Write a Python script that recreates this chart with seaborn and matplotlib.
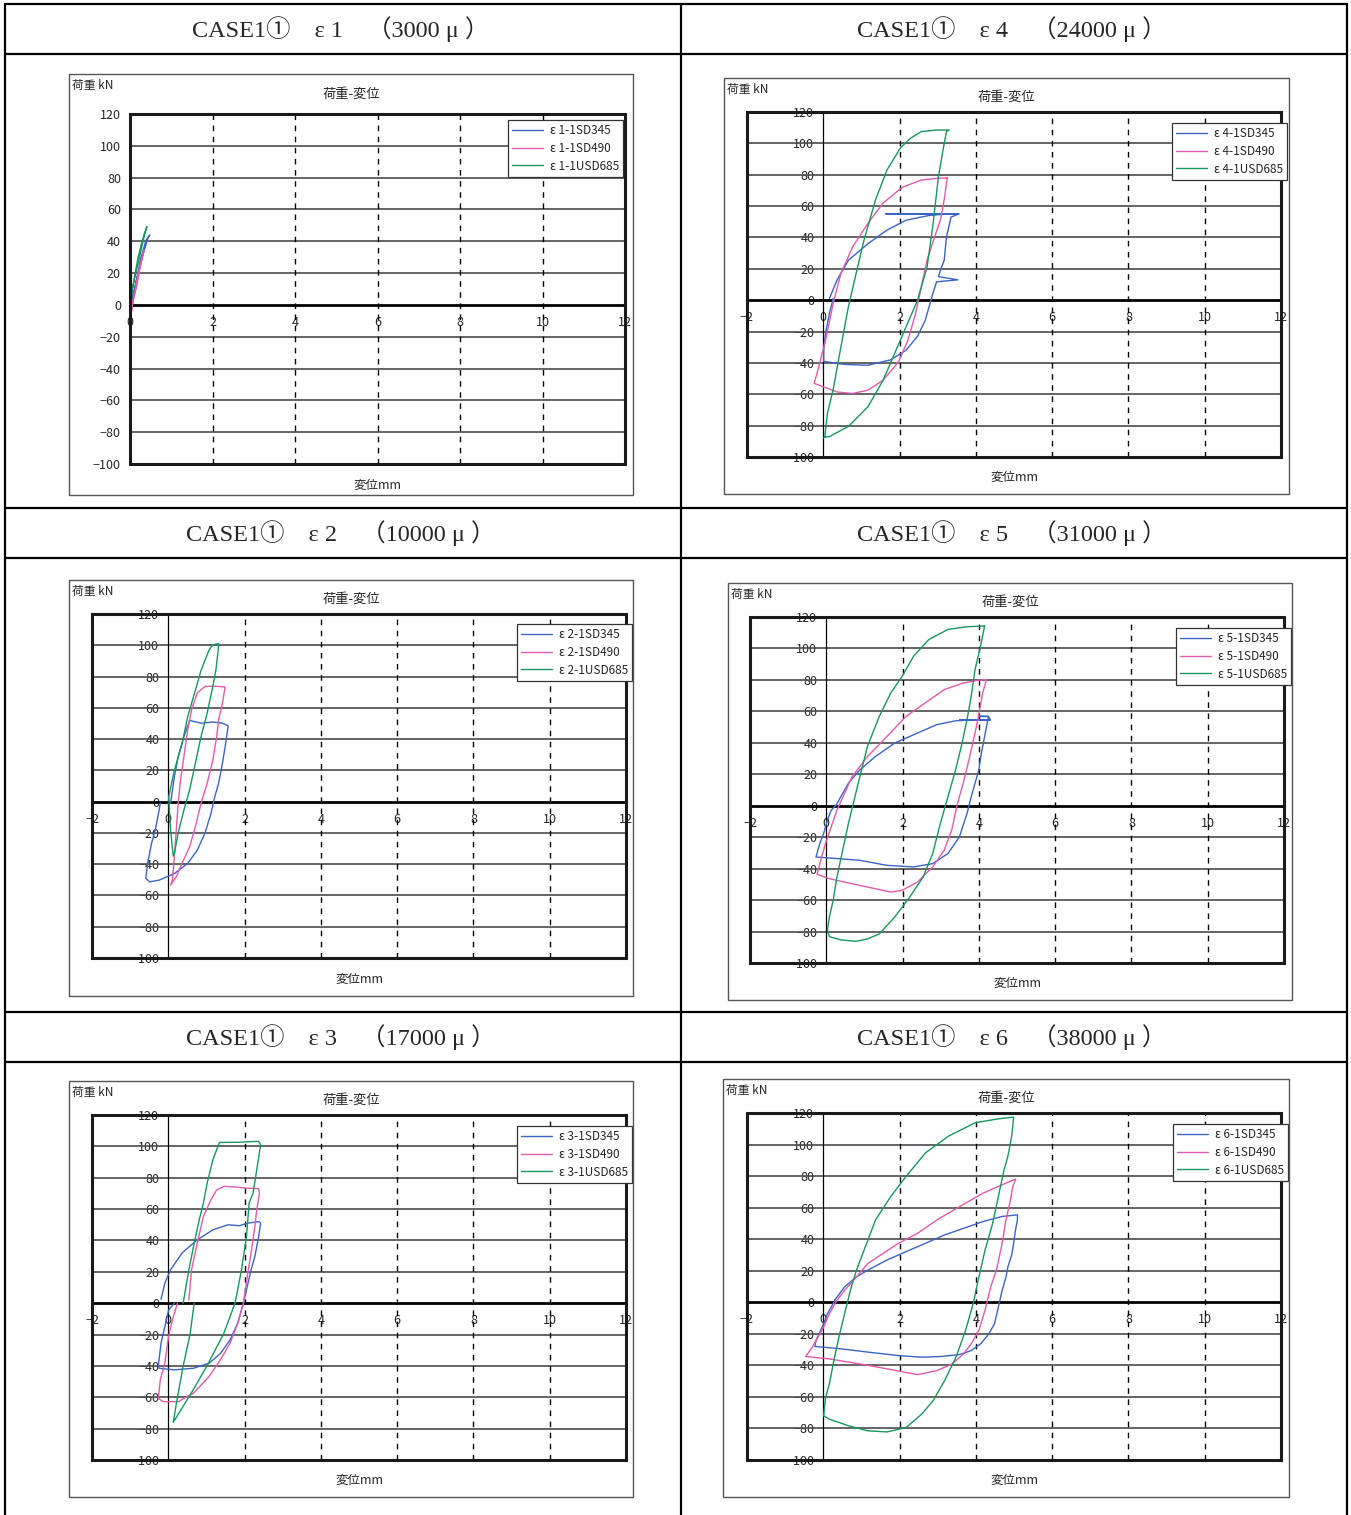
import matplotlib
matplotlib.use("Agg")
import matplotlib.pyplot as plt
import seaborn as sns
from matplotlib.lines import Line2D
from matplotlib.patches import Rectangle

# ---- data (displacement mm, load kN) ----
# eps1 (3000 micro)
e1_sd345_x = [0.02, 0.11, 0.25, 0.39, 0.48, 0.44, 0.30, 0.16, 0.06, 0.02]
e1_sd345_y = [1, 9.4, 28.2, 40.8, 43.9, 42.5, 30.3, 15.7, 5.2, 1]
e1_sd490_x = [0.02, 0.08, 0.16, 0.25, 0.34, 0.30, 0.20, 0.11, 0.05, 0.02]
e1_sd490_y = [-6.3, 3.1, 11.5, 24, 34.5, 30.3, 19.9, 7.3, -1, -6.3]
e1_usd685_x = [0.0, 0.02, 0.11, 0.20, 0.30, 0.41, 0.36, 0.25, 0.14, 0.05, 0.0]
e1_usd685_y = [3, 4.2, 17.8, 30.3, 40.8, 49.2, 45, 32.4, 19.9, 9.4, 3]

# eps2 (10000 micro)
e2_sd345_x = [0.06, 0.16, 0.26, 0.41, 0.56, 0.86, 1.17, 1.42, 1.57, 1.49, 1.42, 1.32, 1.22, 1.12,
              0.96, 0.76, 0.51, 0.16, -0.24, -0.49, -0.59, -0.54, -0.44, -0.34, -0.24, -0.21]
e2_sd345_y = [-1, 16, 28.8, 41.7, 51.9, 50.2, 50.9, 50.2, 48.5, 35, 24.6, 11.8, 3.2, -7.5,
              -20.3, -31, -39.5, -46, -50.2, -51.3, -49, -39.5, -26.7, -18, -5.3, -1]
e2_sd490_x = [0.26, 0.31, 0.41, 0.51, 0.61, 0.76, 0.97, 1.25, 1.49, 1.42, 1.32, 1.27, 1.17, 1.02,
              0.86, 0.71, 0.56, 0.36, 0.21, 0.06, 0.11, 0.16, 0.21, 0.26]
e2_sd490_y = [-1, 11.8, 28.8, 46, 58.8, 69.6, 73.7, 73.8, 73.3, 63, 52.4, 41.7, 26.7, 11.8,
              -1, -16, -28.8, -39.5, -48, -53.4, -50, -35, -18, -1]
e2_usd685_x = [0.01, 0.16, 0.36, 0.51, 0.66, 0.86, 1.07, 1.17, 1.32, 1.32, 1.25, 1.17, 1.02, 0.86,
               0.71, 0.56, 0.41, 0.26, 0.16, 0.13, 0.06, 0.01]
e2_usd685_y = [3, 20, 37, 54.5, 67, 84, 97, 100.4, 101, 99.4, 84.4, 74, 56.7, 41.7,
               24.6, 7.5, -5.3, -20, -33, -34.8, -18, 3]

# eps3 (17000 micro)
e3_sd345_x = [-0.19, -0.09, 0.06, 0.36, 0.76, 1.17, 1.57, 1.87, 2.07, 2.37, 2.42, 2.37, 2.27, 2.17,
              2.07, 1.97, 1.82, 1.62, 1.37, 1.07, 0.66, 0.16, -0.24, -0.26, -0.19, -0.09, 0.01, 0.16]
e3_sd345_y = [2.5, 12.8, 21.3, 32, 40.4, 46.8, 50, 49.4, 51, 52, 51, 42.5, 29.8, 21.3,
              10.6, 0, -12.8, -23.4, -32, -38.3, -41.5, -42.5, -41.5, -39.4, -25.5, -14.9, -4.3, 0]
e3_sd490_x = [0.54, 0.61, 0.76, 0.92, 1.12, 1.27, 1.47, 1.77, 2.07, 2.37, 2.39, 2.32, 2.27, 2.17,
              2.07, 1.97, 1.82, 1.62, 1.37, 1.07, 0.66, 0.26, -0.14, -0.26, -0.21, -0.09, 0.01,
              0.11, 0.24]
e3_sd490_y = [2, 21.3, 38.3, 55.3, 66, 72.3, 74.5, 74, 73.4, 73, 70, 59.6, 49, 32,
              17, 0, -12.8, -25.5, -36, -46.8, -57.4, -62.8, -62.8, -60.6, -49, -38, -21,
              -10.6, 0]
e3_usd685_x = [0.68, 0.57, 0.39, 0.24, 0.13, 0.66, 1.00, 1.45, 1.75, 1.92, 2.05, 2.12, 2.22, 2.32,
               2.42, 2.37, 1.80, 1.34, 1.17, 1.02, 0.92, 0.81, 0.66, 0.53, 0.39]
e3_usd685_y = [0, -20, -40, -60, -76, -55, -40.6, -19.6, 0, 21.3, 42.5, 64, 70, 85,
               101, 103.2, 102.6, 102.5, 91.5, 76.6, 63.8, 53, 36, 20, 0]

# eps4 (24000 micro)
e4_sd345_x = [0.16, 0.36, 0.66, 1.17, 1.67, 2.17, 2.77, 3.27, 3.55, 1.64, 3.55, 3.35, 3.23, 3.17,
              3.07, 3.02, 3.53, 2.97, 2.87, 2.67, 2.47, 2.17, 1.77, 1.17, 0.56, 0.01, 0.01, 0.06,
              0.16, 0.26]
e4_sd345_y = [1, 12.8, 25.5, 36, 44.7, 51, 54, 55, 55, 55, 55, 53, 40.4, 25.5,
              19, 15, 13, 11.7, 4, -13, -23, -31.9, -38, -41.5, -41, -39, -32, -21,
              -8.5, 1]
e4_sd490_x = [3.25, 3.17, 3.07, 2.92, 2.72, 2.57, 2.42, 2.22, 1.97, 1.57, 1.17, 0.77, 0.36, -0.24,
              -0.14, 0.06, 0.26, 0.46, 0.77, 1.17, 1.57, 2.07, 2.57, 2.97, 3.25]
e4_sd490_y = [78, 64, 51, 40.5, 25.5, 8.5, -8.5, -25.5, -39.4, -51, -57.4, -59.5, -58.5, -53,
              -44.5, -25.5, -2, 17, 34, 49, 62, 72, 76.6, 77.7, 78]
e4_usd685_x = [0.01, 0.16, 0.66, 1.17, 1.57, 1.87, 2.17, 2.47, 2.72, 2.87, 3.02, 3.17, 3.23, 3.30,
               2.97, 2.57, 2.27, 2.02, 1.67, 1.37, 1.07, 0.86, 0.66, 0.46, 0.26, 0.11, 0.04]
e4_usd685_y = [-87.5, -87, -80.5, -68, -51, -34, -17, 0, 21, 47, 79, 100, 107.5, 108.5,
               108.5, 107.5, 103, 97, 83, 64, 38.5, 17, -4, -30, -57, -72, -87]

# eps5 (31000 micro)
e5_sd345_x = [0.26, 0.38, 0.58, 0.88, 1.29, 1.79, 2.39, 2.89, 3.39, 3.99, 4.30, 3.50, 4.30, 4.25,
              3.99, 4.25, 4.22, 4.15, 4.05, 4.00, 3.90, 3.80, 3.69, 3.49, 3.19, 2.79, 2.29, 1.59,
              0.88, 0.28, -0.27, -0.17, -0.07, 0.03, 0.13, 0.26]
e5_sd345_y = [0.4, 5.7, 14.3, 22.8, 31.3, 39.8, 46.2, 51.5, 54, 54.7, 54.7, 54.5, 54.7, 56.8,
              56.8, 56.8, 52.6, 44, 31.3, 22.8, 14.3, 5.7, -4.9, -19.8, -30.4, -36.8, -38.9, -37.9,
              -34.7, -33.6, -32.6, -24, -17.7, -9.1, -2.8, 0.4]
e5_sd490_x = [4.20, 4.10, 4.05, 3.99, 3.90, 3.74, 3.59, 3.44, 3.29, 3.09, 2.79, 2.39, 1.99, 1.69,
              1.29, 0.68, 0.08, -0.24, -0.17, -0.02, 0.13, 0.28, 0.48, 0.68, 1.08, 1.59, 2.09,
              2.59, 3.09, 3.59, 3.99, 4.20]
e5_sd490_y = [80.2, 71.7, 65.3, 56.8, 46.2, 29.1, 14.3, 1.5, -15.5, -28.3, -38.9, -48.5, -53.8, -54.9,
              -52.8, -49.6, -46.4, -43.6, -36.8, -24, -13.4, -2.8, 7.9, 18.5, 31.3, 44, 56.8,
              65.3, 73.8, 78, 79.8, 80.2]
e5_usd685_x = [4.15, 4.10, 4.00, 3.90, 3.80, 3.69, 3.54, 3.39, 3.19, 2.99, 2.79, 2.54, 2.19, 1.79,
               1.39, 1.08, 0.78, 0.38, 0.08, 0.03, 0.08, 0.18, 0.28, 0.43, 0.58, 0.73, 0.88, 1.08,
               1.39, 1.69, 1.99, 2.29, 2.69, 3.19, 3.69, 4.15]
e5_usd685_y = [114.3, 107.9, 97, 86.6, 69.6, 54.7, 37.7, 22.8, 5.7, -11.3, -30.4, -45.3, -58, -70.9,
               -81.5, -84.7, -86.2, -85.3, -83.2, -79.4, -70.9, -60.2, -45.3, -28.3, -11.3, 3.6, 18.5, 37.7,
               56.8, 71.7, 82.3, 95.1, 105.7, 112.1, 113.8, 114.3]

# eps6 (38000 micro)
e6_sd345_x = [0.31, 0.56, 0.87, 1.17, 1.67, 2.17, 2.68, 3.18, 3.68, 4.19, 4.69, 5.09, 5.09, 5.04,
              4.99, 4.94, 4.84, 4.79, 4.69, 4.59, 4.49, 4.34, 4.13, 3.88, 3.58, 3.08, 2.58, 1.97,
              1.17, 0.46, -0.22, -0.19, -0.09, 0.01, 0.11, 0.21, 0.31]
e6_sd345_y = [1.7, 9.8, 16.1, 20.4, 26.8, 32.1, 37.4, 42.7, 46.9, 51.2, 54.4, 55.4, 52.2, 45.9,
              37.4, 29.9, 22.5, 16.1, 7.6, -3, -13.6, -20, -26.3, -30.6, -33.1, -34.4, -34.8, -33.8,
              -31.6, -29.5, -28, -24.2, -18.9, -13.6, -7.2, -3, 1.7]
e6_sd490_x = [5.04, 4.97, 4.89, 4.79, 4.69, 4.54, 4.39, 4.24, 4.08, 3.88, 3.68, 3.38, 2.98, 2.47,
              1.67, 0.97, 0.16, -0.46, -0.29, -0.14, 0.01, 0.16, 0.36, 0.56, 0.87, 1.17, 1.57,
              1.97, 2.47, 2.98, 3.58, 4.19, 4.69, 5.04]
e6_sd490_y = [77.7, 73.5, 62.8, 52.2, 37.4, 20.4, 9.8, -5.1, -17.8, -26.3, -32.7, -39.1, -43.3, -45.9,
              -42.2, -39.1, -35.9, -34.4, -28.5, -22.1, -15.7, -7.2, 1.3, 7.6, 16.1, 24.6, 31,
              37.4, 43.7, 52.2, 60.7, 69.2, 74.5, 78.1]
e6_usd685_x = [4.99, 4.94, 4.84, 4.74, 4.59, 4.44, 4.24, 4.08, 3.93, 3.73, 3.48, 3.18, 2.88, 2.58,
               2.17, 1.67, 1.17, 0.66, 0.16, 0.01, 0.06, 0.16, 0.26, 0.41, 0.56, 0.71, 0.87, 1.07,
               1.37, 1.77, 2.17, 2.68, 3.28, 3.98, 4.59, 4.99]
e6_usd685_y = [117, 105.3, 92.6, 84, 67, 50, 33, 16.1, -0.8, -17.8, -34.8, -49.7, -62.4, -70.9,
               -79.4, -82.2, -81.5, -78.3, -74.1, -72, -60.3, -51.8, -39, -22.1, -7.2, 7.6, 20.4, 33.1,
               52.2, 67.1, 79.8, 94.7, 105.3, 113.8, 116.3, 117.4]

grades = ["SD345", "SD490", "USD685"]
colors = ["#3a64c6", "#e25aac", "#17985c"]
yticks = list(range(-100, 121, 20))

headers = [
    ("CASE1①　ε 1　（3000 μ ）", 341, 29),
    ("CASE1①　ε 4　（24000 μ ）", 1012, 29),
    ("CASE1①　ε 2　（10000 μ ）", 341, 533),
    ("CASE1①　ε 5　（31000 μ ）", 1012, 533),
    ("CASE1①　ε 3　（17000 μ ）", 341, 1037),
    ("CASE1①　ε 6　（38000 μ ）", 1012, 1037),
]

# panel layout in pixels: frame box, plot box, legend corner, label rows
panels = [
    dict(n=1, xmin=0, frame=(69, 74, 633, 495), plot=(130, 114, 625, 464), leg=(623, 120),
         kn=85, title=94, xlab=485,
         data=[(e1_sd345_x, e1_sd345_y), (e1_sd490_x, e1_sd490_y), (e1_usd685_x, e1_usd685_y)]),
    dict(n=4, xmin=-2, frame=(724, 78, 1289, 494), plot=(747, 112, 1281, 457), leg=(1287, 123),
         kn=89, title=97, xlab=477,
         data=[(e4_sd345_x, e4_sd345_y), (e4_sd490_x, e4_sd490_y), (e4_usd685_x, e4_usd685_y)]),
    dict(n=2, xmin=-2, frame=(69, 580, 633, 996), plot=(92, 614, 626, 958), leg=(632, 624),
         kn=591, title=599, xlab=979,
         data=[(e2_sd345_x, e2_sd345_y), (e2_sd490_x, e2_sd490_y), (e2_usd685_x, e2_usd685_y)]),
    dict(n=5, xmin=-2, frame=(728, 583, 1292, 1000), plot=(750, 617, 1284, 963), leg=(1291, 628),
         kn=594, title=602, xlab=983,
         data=[(e5_sd345_x, e5_sd345_y), (e5_sd490_x, e5_sd490_y), (e5_usd685_x, e5_usd685_y)]),
    dict(n=3, xmin=-2, frame=(69, 1081, 633, 1497), plot=(92, 1115, 626, 1460), leg=(632, 1126),
         kn=1092, title=1100, xlab=1480,
         data=[(e3_sd345_x, e3_sd345_y), (e3_sd490_x, e3_sd490_y), (e3_usd685_x, e3_usd685_y)]),
    dict(n=6, xmin=-2, frame=(723, 1079, 1289, 1497), plot=(747, 1113, 1281, 1460), leg=(1288, 1124),
         kn=1090, title=1098, xlab=1480,
         data=[(e6_sd345_x, e6_sd345_y), (e6_sd490_x, e6_sd490_y), (e6_usd685_x, e6_usd685_y)]),
]

sns.set_style("white")
plt.rcParams["font.family"] = ["Noto Sans CJK JP", "DejaVu Sans"]

W, H = 1351, 1515
fig = plt.figure(figsize=(W / 100, H / 100), dpi=100)


def fx(x):
    return x / W


def fy(y):
    return 1 - y / H


# table grid
for yy in [4, 54, 508, 558, 1012, 1062]:
    fig.add_artist(Line2D([fx(5), fx(1347)], [fy(yy), fy(yy)], color="k", lw=1.6))
for xx in [5, 681, 1347]:
    fig.add_artist(Line2D([fx(xx), fx(xx)], [fy(4), fy(1515)], color="k", lw=1.6))

for txt, x, y in headers:
    fig.text(fx(x), fy(y), txt, ha="center", va="center", fontsize=17.5,
             family=["Liberation Serif", "Noto Sans CJK JP"])

for p in panels:
    fl, ft, fr, fb = p["frame"]
    fig.add_artist(Rectangle((fx(fl), fy(fb)), (fr - fl) / W, (fb - ft) / H,
                             fill=False, ec="#555555", lw=1.0))
    fig.text(fx(fl + 3), fy(p["kn"]), "荷重 kN", ha="left", va="center", fontsize=8.5)
    fig.text(fx((fl + fr) / 2), fy(p["title"]), "荷重-変位", ha="center", va="center", fontsize=9.5)

    pl, pt, pr, pb = p["plot"]
    fig.text(fx((pl + pr) / 2), fy(p["xlab"]), "変位mm", ha="center", va="center", fontsize=9)
    ax = fig.add_axes([fx(pl), fy(pb), (pr - pl) / W, (pb - pt) / H])

    for (xs, ys), c, g in zip(p["data"], colors, grades):
        sns.lineplot(x=xs, y=ys, sort=False, estimator=None, color=c, lw=1.0, ax=ax,
                     label=f"ε {p['n']}-1{g}", zorder=4)

    ax.set_xlim(p["xmin"], 12)
    ax.set_ylim(-100, 120)
    ax.set_xticks(range(p["xmin"], 13, 2))
    ax.set_yticks(yticks)
    ax.set_xlabel("")
    ax.set_ylabel("")

    for yv in yticks:
        if yv != 0:
            ax.axhline(yv, color="#4a4a4a", lw=1.2, zorder=1)
    for xv in range(2, 12, 2):
        ax.axvline(xv, color="k", lw=1.0, ls=(0, (4, 4)), zorder=1)

    for s in ["top", "right"]:
        ax.spines[s].set_visible(False)
    ax.spines["left"].set_position(("data", 0))
    ax.spines["left"].set_linewidth(0.9)
    ax.spines["left"].set_color("k")
    ax.spines["bottom"].set_position(("data", 0))
    ax.spines["bottom"].set_linewidth(2.0)
    ax.spines["bottom"].set_color("k")
    ax.add_patch(Rectangle((0, 0), 1, 1, transform=ax.transAxes, fill=False,
                           ec="#1a1a1a", lw=2.2, clip_on=False, zorder=5))

    ax.tick_params(axis="x", direction="inout", length=6, width=1.2, pad=5, labelsize=9)
    ax.tick_params(axis="y", direction="out", length=2.5, width=1.0, pad=4, labelsize=9)

    lx, ly = p["leg"]
    leg = ax.legend(loc="upper right", bbox_to_anchor=(fx(lx), fy(ly)),
                    bbox_transform=fig.transFigure, borderaxespad=0, fontsize=8.5,
                    frameon=True, fancybox=False, edgecolor="#333333", framealpha=1,
                    handlelength=2.6, handletextpad=0.6, borderpad=0.35, labelspacing=0.4)
    leg.get_frame().set_linewidth(0.9)
    leg.set_zorder(6)

fig.savefig("out.png", dpi=100, facecolor="white")
